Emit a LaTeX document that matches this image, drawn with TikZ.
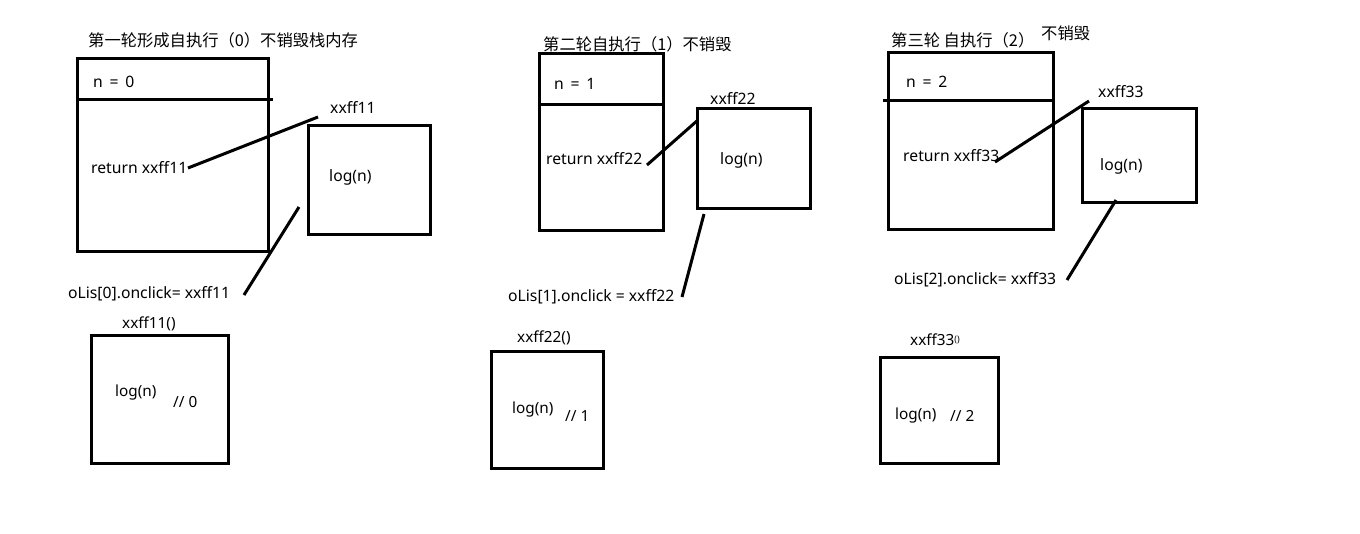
\documentclass[tikz,border=0pt]{standalone}
\usepackage{fontspec}
\setmainfont{Noto Sans}
\newfontfamily\cjk{Noto Sans CJK SC}
\begin{document}
\begin{tikzpicture}[x=1pt,y=-1pt,
  box/.style={draw=black,line width=3pt,anchor=north west,inner sep=0pt,outer sep=0pt},
  wire/.style={draw=black,line width=3pt},
  txt/.style={anchor=west,inner sep=0pt,font=\fontsize{15.7}{18}\selectfont,text=black},
  head/.style={anchor=west,inner sep=0pt,font=\cjk\fontsize{16.3}{19}\selectfont,text=black},
  fixed/.style={anchor=west,inner sep=0pt,font=\fontsize{15.3}{17}\selectfont,text=black}]
\useasboundingbox[fill=white] (0,0) rectangle (1360,533);

% ---------- group 1 ----------
\node[head] (t1) at (88,40) {第一轮形成自执行（0）不销毁栈内存};
\node[box,minimum width=191pt,minimum height=193pt] (f1) at (77,58) {};
\coordinate (d1) at (273,99);
\draw[wire] (f1.west |- d1) -- (d1);
\node[txt] (n1) at (93,82) {n\,\ =\ \,0};
\node[txt] (r1) at (91,168) {return xxff11};
\node[txt] (a1) at (330,107) {xxff11};
\node[box,minimum width=122pt,minimum height=109pt] (c1) at (308,125) {};
\node[txt] (l1) at (329,177) {log(n)};
\coordinate (p1a) at (188,168);
\coordinate (p1b) at (318,117);
\draw[wire] (p1a) -- (p1b);
\node[txt] (o1) at (68,294) {oLis[0].onclick= xxff11};
\coordinate (q1a) at (299,207);
\coordinate (q1b) at (244,295);
\draw[wire] (q1a) -- (q1b);
\node[fixed] (e1) at (122,324) {xxff11()};
\node[box,minimum width=137pt,minimum height=128pt] (b1) at (91,335) {};
\node[fixed] (bl1) at (115,393) {log(n)};
\node[fixed] (bc1) at (173,402) {// 0};

% ---------- group 2 ----------
\node[head] (t2) at (543,44) {第二轮自执行（1）不销毁};
\node[box,minimum width=124pt,minimum height=177pt] (f2) at (539,53) {};
\coordinate (d2) at (663,104);
\draw[wire] (f2.west |- d2) -- (d2);
\node[txt] (n2) at (554,84) {n\,\ =\ \,1};
\node[txt] (r2) at (546,159) {return xxff22};
\node[txt] (a2) at (710,98) {xxff22};
\node[box,minimum width=113pt,minimum height=100pt] (c2) at (697,108) {};
\node[txt] (l2) at (720,160) {log(n)};
\coordinate (p2a) at (647,165);
\coordinate (p2b) at (698,120);
\draw[wire] (p2a) -- (p2b);
\node[txt] (o2) at (508,297) {oLis[1].onclick = xxff22};
\coordinate (q2a) at (704,214);
\coordinate (q2b) at (682,297);
\draw[wire] (q2a) -- (q2b);
\node[fixed] (e2) at (517,338) {xxff22()};
\node[box,minimum width=112pt,minimum height=117pt] (b2) at (491,351) {};
\node[fixed] (bl2) at (512,410) {log(n)};
\node[fixed] (bc2) at (565,416) {// 1};

% ---------- group 3 ----------
\node[head] (t3) at (891,40) {第三轮 自执行（2）};
\node[head] (t3b) at (1041,33) {不销毁};
\node[box,minimum width=165pt,minimum height=177pt] (f3) at (888,52) {};
\coordinate (d3a) at (883,100);
\draw[wire] (d3a) -- (d3a -| f3.east);
\node[txt] (n3) at (906,82) {n\,\ =\ \,2};
\node[txt] (r3) at (903,156) {return xxff33};
\node[txt] (a3) at (1098,92) {xxff33};
\node[box,minimum width=114pt,minimum height=94pt] (c3) at (1082,108) {};
\node[txt] (l3) at (1100,166) {log(n)};
\coordinate (p3a) at (995,162);
\coordinate (p3b) at (1089,101);
\draw[wire] (p3a) -- (p3b);
\node[txt] (o3) at (894,280) {oLis[2].onclick= xxff33};
\coordinate (q3a) at (1116,200);
\coordinate (q3b) at (1067,280);
\draw[wire] (q3a) -- (q3b);
\node[fixed] (e3) at (910,340) {xxff33\raisebox{3pt}{\fontsize{9}{10}\selectfont ()}};
\node[box,minimum width=118pt,minimum height=106pt] (b3) at (880,357) {};
\node[fixed] (bl3) at (895,416) {log(n)};
\node[fixed] (bc3) at (950,416) {// 2};
\end{tikzpicture}
\end{document}
